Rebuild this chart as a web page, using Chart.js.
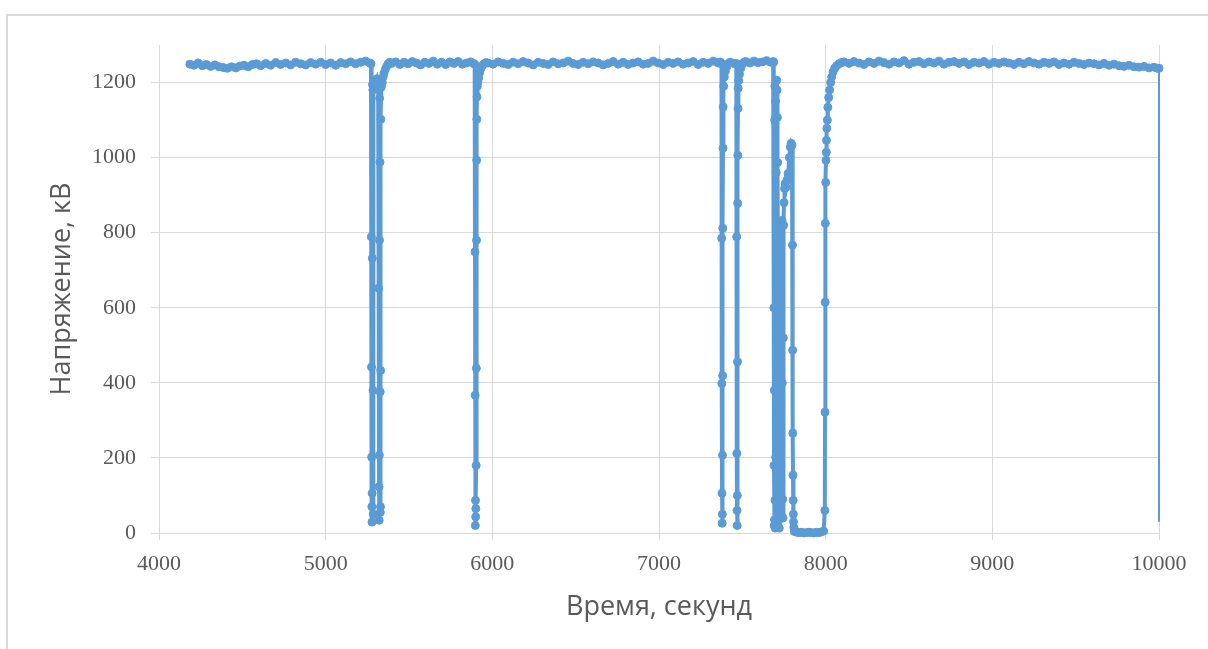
<!DOCTYPE html>
<html>
<head>
<meta charset="utf-8">
<script src="https://cdn.jsdelivr.net/npm/chart.js@4.4.1/dist/chart.umd.min.js"></script>
<style>
	body{margin:0;background:#fff;}
	#marco{position:absolute;left:6px;top:14px;width:1400px;height:800px;border-left:2px solid #d9d9d9;border-top:2px solid #d9d9d9;}
	#grafica{position:absolute;left:0;top:0;}
</style>
</head>
<body>
<div id="marco"></div>
<canvas id="grafica" width="1208" height="649"></canvas>
<script>
// tiempo (s) y tension (kV)
var tiempo=[
	// tramo 1
	4185,4210,4235,4260,4285,4310,4335,4360,4385,4410,
	4435,4460,4485,4510,4535,4560,4585,4610,4640,4670,
	4700,4730,4760,4790,4820,4850,4880,4910,4940,4970,
	5000,5030,5060,5090,5120,5150,5180,5210,5240,5265,
	// caida 1
	5272,5274,5275,5276,5277,5278,5279,5280,5281,5283,
	5284,5285,5287,5292,5300,5308,5315,5318,5320,5321,
	5322,5323,5324,5326,5327,5328,5329,5330,5331,5334,
	5340,5345,5350,5358,5366,5375,5385,
	// tramo 2
	5395,5420,5445,5470,5495,5520,5545,5570,5595,5620,
	5645,5670,5695,5720,5745,5770,5795,5820,5845,5870,5888,
	// caida 2
	5894,5896,5897,5898,5899,5900,5901,5903,5904,5905,
	5906,5907,5908,5910,5913,5918,5924,5931,5940,5950,5962,
	// tramo 3
	5975,6005,6035,6065,6095,6125,6155,6185,6215,6245,
	6275,6305,6335,6365,6395,6425,6455,6485,6515,6545,
	6575,6605,6635,6665,6695,6725,6755,6785,6815,6845,
	6875,6905,6935,6965,6995,7025,7055,7085,7115,7145,
	7175,7205,7235,7265,7295,7325,7355,7368,
	// caida 3
	7375,7376,7377,7378,7379,7380,7381,7382,7383,7384,
	7385,7388,7392,7398,7406,7415,7426,7440,7455,
	// caida 4
	7464,7466,7467,7468,7469,7470,7471,7472,7473,7474,
	7475,7478,7483,7490,7498,7508,
	7520,7545,7570,7595,7620,7645,7670,7685,
	// caida 5
	7688,7689,7690,7691,7692,7693,7694,7695,7696,7697,
	7699,7700,7702,7703,7706,7708,7710,7712,7714,7716,
	7718,7720,7721,7722,7725,7728,7731,7735,7738,7740,
	7742,7744,7746,7748,7750,7753,7757,7762,7768,7775,
	7782,7788,7793,7798,7801,7802,7803,7804,7805,7806,
	7807,7809,
	// fondo
	7812,7825,7840,7855,7870,7885,7900,7915,7930,7945,7960,7975,7988,
	// subida
	7995,7996,7997,7998,8000,8002,8004,8005,8007,8010,
	8013,8018,8024,8030,8036,8044,8054,8066,8080,8095,
	// tramo final
	8110,8140,8170,8200,8230,8260,8290,8320,8350,8380,
	8410,8440,8470,8500,8530,8560,8590,8620,8650,8680,
	8710,8740,8770,8800,8830,8860,8890,8920,8950,8980,
	9010,9040,9070,9100,9130,9160,9190,9220,9250,9280,
	9310,9340,9370,9400,9430,9460,9490,9520,9550,9580,
	9610,9640,9670,9700,9730,9760,9790,9820,9850,9880,
	9910,9940,9970,9990,10000,10000
];
var tension=[
	1249,1246,1252,1245,1248,1243,1247,1242,1240,1238,
	1242,1239,1244,1246,1242,1248,1250,1245,1251,1246,
	1253,1248,1252,1247,1254,1250,1247,1253,1249,1254,
	1248,1252,1246,1253,1250,1255,1250,1254,1257,1252,

	1250,789,442,202,70,29,106,732,1195,1180,
	380,50,1205,1190,1200,1210,1195,652,123,34,
	207,780,1158,988,376,55,70,433,1102,1188,
	1200,1215,1225,1235,1243,1250,1254,

	1251,1255,1248,1254,1250,1256,1252,1247,1254,1251,
	1257,1249,1254,1248,1255,1251,1256,1249,1252,1255,1251,

	1249,749,367,20,87,43,65,180,439,780,
	993,1102,1162,1190,1200,1212,1226,1237,1245,1250,1253,

	1252,1249,1255,1251,1248,1254,1250,1256,1252,1247,
	1254,1251,1248,1255,1250,1252,1257,1251,1248,1254,
	1250,1255,1252,1247,1251,1256,1249,1254,1248,1252,
	1255,1249,1251,1257,1252,1248,1254,1251,1255,1249,
	1252,1256,1248,1254,1251,1257,1252,1255,

	1250,785,398,106,26,50,207,419,812,1025,
	1135,1190,1215,1230,1242,1250,1254,1252,1250,

	1251,789,212,60,20,100,456,878,1006,1131,
	1185,1205,1222,1238,1248,1253,
	1256,1252,1257,1253,1255,1258,1254,1256,

	1254,600,180,20,380,35,1100,1190,87,13,
	1150,202,25,960,1206,1180,1107,987,705,439,
	34,820,180,13,601,828,772,815,833,400,
	90,40,520,820,880,918,931,921,940,958,
	1000,1028,1038,1033,767,487,266,154,87,50,
	30,15,

	4,2,1,2,0,1,2,1,0,2,1,3,5,

	60,322,615,825,934,993,1014,1046,1078,1100,
	1134,1160,1180,1200,1215,1228,1238,1245,1250,1253,

	1255,1251,1256,1252,1248,1255,1251,1257,1253,1249,
	1255,1252,1258,1249,1254,1256,1250,1255,1252,1257,
	1249,1254,1256,1251,1255,1248,1254,1252,1256,1249,
	1254,1251,1255,1252,1248,1254,1250,1256,1252,1249,
	1254,1251,1255,1248,1252,1249,1254,1251,1248,1252,
	1250,1247,1251,1246,1249,1245,1243,1246,1242,1241,
	1243,1239,1241,1238,1238,30
];
var ticksX=[4000,5000,6000,7000,8000,9000,10000];
var ticksY=[0,200,400,600,800,1000,1200];

var azul='#5B9BD5';
var gris='#d9d9d9';
var texto='#595959';

var puntos=tiempo.map(function(t,i){ return {x:t,y:tension[i]}; });
var ultimo=puntos.length-1;

var grafica=new Chart(document.getElementById('grafica'),{
	type:'line',
	data:{
		datasets:[{
			data:puntos,
			borderColor:azul,
			backgroundColor:azul,
			borderWidth:4,
			pointRadius:function(c){ return c.dataIndex===ultimo?0:4; },
			pointBorderWidth:1,
			pointBackgroundColor:azul,
			pointBorderColor:azul,
			tension:0,
			clip:false,
			segment:{borderWidth:function(c){ return c.p1DataIndex===ultimo?2:4; }}
		}]
	},
	options:{
		responsive:false,
		animation:false,
		devicePixelRatio:1,
		layout:{padding:{left:0,right:49,top:45,bottom:0}},
		plugins:{legend:{display:false},tooltip:{enabled:false}},
		scales:{
			x:{
				type:'linear',min:4000,max:10000,
				afterBuildTicks:function(s){ s.ticks=ticksX.map(function(v){return {value:v};}); },
				afterFit:function(s){ s.height=116; },
				ticks:{color:texto,font:{family:'Liberation Serif',size:22},padding:11,
					callback:function(v){ return String(v); }},
				grid:{color:gris,tickLength:7,lineWidth:1},
				border:{color:gris},
				title:{display:true,text:'Время, секунд',color:texto,font:{family:'Open Sans',size:27},padding:{top:4,bottom:25}}
			},
			y:{
				type:'linear',min:0,max:1300,
				afterBuildTicks:function(s){ s.ticks=ticksY.map(function(v){return {value:v};}); },
				afterFit:function(s){ s.width=159; },
				ticks:{color:texto,font:{family:'Liberation Serif',size:22},padding:15,
					callback:function(v){ return String(v); }},
				grid:{color:gris,tickLength:8,lineWidth:1},
				border:{display:false},
				title:{display:true,text:'Напряжение, кВ',color:texto,font:{family:'Open Sans',size:27},padding:{top:46,bottom:4}}
			}
		}
	}
});
</script>
</body>
</html>
